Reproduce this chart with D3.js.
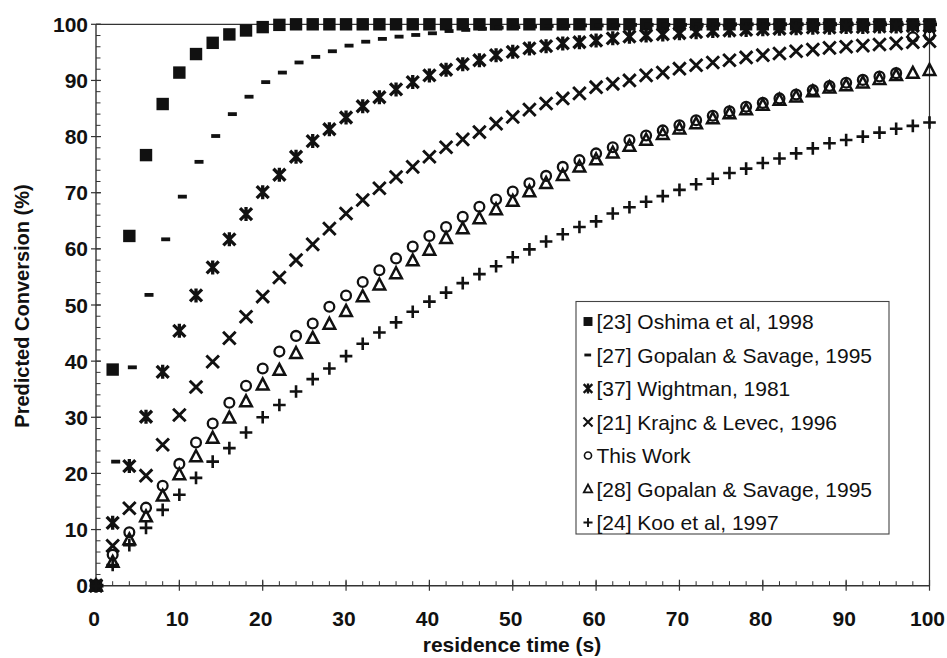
<!DOCTYPE html>
<html><head><meta charset="utf-8">
<script src="https://cdn.jsdelivr.net/npm/d3@7"></script>
<style>body{margin:0;background:#fff}svg{display:block}</style>
</head><body>
<svg id="chart" width="947" height="658"></svg>
<script>
const times = d3.range(0, 101, 2);
const oshima = [0,38.5,62.3,76.7,85.8,91.4,94.7,96.7,98.2,98.9,99.5,99.9,100,100,100,100,100,100,100,100,100,100,100,100,100,100,100,100,100,100,100,100,100,100,100,100,100,100,100,100,100,100,100,100,100,100,100,100,100,100,100];
const gopalan27 = [0,22.1,38.9,51.8,61.7,69.3,75.5,80.1,84.0,87.1,89.7,91.4,93.2,94.2,95.2,96.2,96.9,97.4,97.8,98.1,98.4,98.8,99.0,99.2,99.4,99.5,99.6,99.7,99.7,99.8,99.8,99.8,99.9,99.9,99.9,99.9,99.9,100,100,100,100,100,100,100,100,100,100,100,100,100,100];
const wightman = [0,11.2,21.3,30.1,38.1,45.4,51.7,56.7,61.7,66.2,70.1,73.2,76.4,79.2,81.3,83.4,85.4,87.0,88.4,89.7,90.9,91.9,92.9,93.6,94.5,95.1,95.7,96.1,96.6,96.8,97.1,97.5,97.8,98.0,98.2,98.4,98.6,98.8,98.9,99.0,99.1,99.2,99.3,99.4,99.4,99.5,99.5,99.6,99.6,99.7,99.7];
const krajnc = [0,7.1,13.8,19.6,25.1,30.4,35.4,39.9,44.1,47.9,51.5,54.9,58.0,60.8,63.6,66.3,68.7,70.8,72.8,74.6,76.4,78.1,79.5,80.8,82.3,83.5,84.8,85.9,86.8,87.7,88.8,89.4,90.0,90.9,91.4,92.1,92.7,93.2,93.6,94.1,94.5,94.8,95.2,95.5,95.8,96.0,96.2,96.4,96.6,96.8,97.0];
const thisWork = [0,5.5,9.5,13.9,17.8,21.7,25.5,28.9,32.6,35.6,38.7,41.7,44.5,46.7,49.7,51.7,54.1,56.2,58.3,60.4,62.3,63.9,65.7,67.5,68.8,70.2,71.7,73.0,74.6,75.8,77.0,78.1,79.4,80.2,81.1,82.0,82.9,83.7,84.5,85.3,86.0,86.8,87.5,88.3,89.0,89.6,90.1,90.7,91.3,97.7,98.0];
const gopalan28 = [0,4.2,8.2,12.3,16.0,19.8,23.0,26.3,29.9,32.8,35.8,38.4,41.4,44.1,46.6,48.9,51.5,53.6,55.6,57.9,59.8,61.9,63.6,65.4,67.0,68.5,70.2,71.7,73.1,74.6,75.9,77.1,78.3,79.4,80.4,81.4,82.3,83.2,84.1,84.8,85.6,86.5,87.1,88.0,88.7,89.1,89.6,90.2,90.9,91.3,91.8];
const koo = [0,3.7,7.2,10.3,13.5,16.2,19.2,22.1,24.5,27.3,30.0,32.2,34.6,36.8,38.7,40.9,43.1,45.1,46.9,48.8,50.6,52.2,53.9,55.5,56.9,58.5,59.9,61.3,62.6,63.9,64.9,66.3,67.4,68.4,69.4,70.5,71.5,72.5,73.5,74.3,75.3,76.1,77.0,77.9,78.8,79.4,80.0,80.7,81.4,81.9,82.5];
const seriesNames = ["[23] Oshima et al, 1998","[27] Gopalan & Savage, 1995","[37] Wightman, 1981","[21] Krajnc & Levec, 1996","This Work","[28] Gopalan & Savage, 1995","[24] Koo et al, 1997"];
const seriesValues = [oshima, gopalan27, wightman, krajnc, thisWork, gopalan28, koo];
const markerKinds = ["square","dash","star","x","circle","triangle","plus"];
const xTickLabels = [0,10,20,30,40,50,60,70,80,90,100];
const yTickLabels = [0,10,20,30,40,50,60,70,80,90,100];
const xTitle = "residence time (s)";
const yTitle = "Predicted Conversion (%)";

const svg = d3.select("#chart");
const L = 96, R = 929.5, T = 24.3, B = 585.7;
const x = d3.scaleLinear().domain([0,100]).range([L,R]);
const y = d3.scaleLinear().domain([0,100]).range([B,T]);
const ink = "#111";
const axisCol = "#333";

const g = svg.append("g");
g.append("line").attr("x1",L).attr("x2",R).attr("y1",T).attr("y2",T).attr("stroke",axisCol).attr("stroke-width",1.2);
g.append("line").attr("x1",R).attr("x2",R).attr("y1",T).attr("y2",B).attr("stroke",axisCol).attr("stroke-width",1.2);
g.append("line").attr("x1",L).attr("x2",R).attr("y1",B).attr("y2",B).attr("stroke",axisCol).attr("stroke-width",1.4);
g.append("line").attr("x1",L).attr("x2",L).attr("y1",T).attr("y2",B).attr("stroke",axisCol).attr("stroke-width",1.4);

const minor = d3.range(0,101,2);
g.selectAll(".xmin").data(minor).enter().append("line")
  .attr("x1",d=>x(d)).attr("x2",d=>x(d)).attr("y1",B-4.5).attr("y2",B)
  .attr("stroke",axisCol).attr("stroke-width",1);
g.selectAll(".xmaj").data(xTickLabels).enter().append("line")
  .attr("x1",d=>x(d)).attr("x2",d=>x(d)).attr("y1",B-6).attr("y2",B+5)
  .attr("stroke",axisCol).attr("stroke-width",1.2);
g.selectAll(".ymin").data(minor).enter().append("line")
  .attr("x1",L).attr("x2",L+4.5).attr("y1",d=>y(d)).attr("y2",d=>y(d))
  .attr("stroke",axisCol).attr("stroke-width",1);
g.selectAll(".ymaj").data(yTickLabels).enter().append("line")
  .attr("x1",L-5).attr("x2",L+5).attr("y1",d=>y(d)).attr("y2",d=>y(d))
  .attr("stroke",axisCol).attr("stroke-width",1.2);

const font = "'Liberation Sans', Arial, sans-serif";
g.selectAll(".xl").data(xTickLabels).enter().append("text")
  .attr("x",d=>x(d)-2).attr("y",B+40).attr("text-anchor","middle")
  .attr("font-family",font).attr("font-weight","bold").attr("font-size",21).attr("fill",ink).text(d=>d);
g.selectAll(".yl").data(yTickLabels).enter().append("text")
  .attr("x",L-8).attr("y",d=>y(d)+7.5).attr("text-anchor","end")
  .attr("font-family",font).attr("font-weight","bold").attr("font-size",21).attr("fill",ink).text(d=>d);
g.append("text").attr("x",512).attr("y",652).attr("text-anchor","middle")
  .attr("font-family",font).attr("font-weight","bold").attr("font-size",21).attr("fill",ink).text(xTitle);
g.append("text").attr("transform","translate(29,306) rotate(-90)").attr("text-anchor","middle")
  .attr("font-family",font).attr("font-weight","bold").attr("font-size",20).attr("fill",ink).text(yTitle);

function drawMarker(sel, kind) {
  if (kind === "square") {
    sel.append("rect").attr("x",-6.2).attr("y",-6.2).attr("width",12.4).attr("height",12.4).attr("fill",ink);
  } else if (kind === "dash") {
    sel.append("rect").attr("x",-1.5).attr("y",-1.9).attr("width",9).attr("height",3.8).attr("fill",ink);
  } else if (kind === "star") {
    sel.append("path").attr("d","M-6,-6L6,6M-6,6L6,-6M0,-7L0,7").attr("stroke",ink).attr("stroke-width",3.3).attr("fill","none");
  } else if (kind === "x") {
    sel.append("path").attr("d","M-6.3,-6.3L6.3,6.3M-6.3,6.3L6.3,-6.3").attr("stroke",ink).attr("stroke-width",2.9).attr("fill","none");
  } else if (kind === "circle") {
    sel.append("circle").attr("r",4.9).attr("stroke",ink).attr("stroke-width",2.3).attr("fill","none");
  } else if (kind === "triangle") {
    sel.append("path").attr("d","M0,-6.3L5.8,4.7L-5.8,4.7Z").attr("stroke",ink).attr("stroke-width",2.5).attr("fill","none").attr("stroke-linejoin","miter");
  } else if (kind === "plus") {
    sel.append("path").attr("d","M-6.3,0L6.3,0M0,-6.3L0,6.3").attr("stroke",ink).attr("stroke-width",2.6).attr("fill","none");
  }
}

seriesValues.forEach((vals, i) => {
  const sg = svg.append("g");
  const pts = sg.selectAll("g").data(times.map((t,j)=>({t, v: vals[j]}))).enter().append("g")
    .attr("transform", d => `translate(${x(d.t)},${y(d.v)})`);
  drawMarker(pts, markerKinds[i]);
});

const lg = svg.append("g");
lg.append("rect").attr("x",576).attr("y",301.5).attr("width",313).attr("height",232.5)
  .attr("fill","#fff").attr("stroke","#444").attr("stroke-width",1.1);
const legY = d3.scaleLinear().domain([0,6]).range([321.5,522.5]);
seriesNames.forEach((name,i)=>{
  const item = lg.append("g").attr("transform",`translate(588,${legY(i)})`);
  const m = item.append("g").attr("transform", markerKinds[i]==="dash" ? "translate(-2.5,0) scale(0.75)" : "scale(0.72)");
  drawMarker(m, markerKinds[i]);
  item.append("text").attr("x",8.5).attr("y",7.5).attr("font-family",font).attr("font-size",21).attr("fill",ink).text(name);
});
</script>
</body></html>
